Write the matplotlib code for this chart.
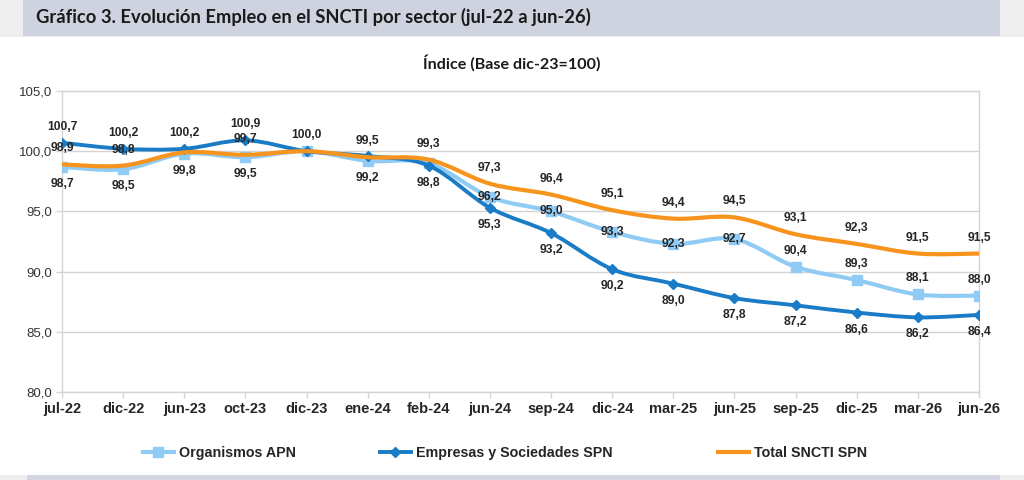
import matplotlib
matplotlib.use("Agg")
import matplotlib.pyplot as plt
from matplotlib.path import Path
from matplotlib.patches import PathPatch, Rectangle
from matplotlib.lines import Line2D

# ---------------- data ----------------
categories = ["jul-22", "dic-22", "jun-23", "oct-23", "dic-23", "ene-24", "feb-24",
              "jun-24", "sep-24", "dic-24", "mar-25", "jun-25", "sep-25", "dic-25",
              "mar-26", "jun-26"]
organismos_apn = [98.7, 98.5, 99.8, 99.5, 100.0, 99.2, 99.0, 96.2, 95.0, 93.3,
                  92.3, 92.7, 90.4, 89.3, 88.1, 88.0]
empresas_spn = [100.7, 100.2, 100.2, 100.9, 100.0, 99.6, 98.8, 95.3, 93.2, 90.2,
                89.0, 87.8, 87.2, 86.6, 86.2, 86.4]
total_sncti = [98.9, 98.8, 99.9, 99.7, 100.0, 99.5, 99.3, 97.3, 96.4, 95.1,
               94.4, 94.5, 93.1, 92.3, 91.5, 91.5]
series_names = ["Organismos APN", "Empresas y Sociedades SPN", "Total SNCTI SPN"]
y_ticks = [80.0, 85.0, 90.0, 95.0, 100.0, 105.0]

# label placement per point: 'a' above, 'b' below, 'c' centered, '' none
org_pos = ["b", "b", "b", "b", "", "b", "", "c", "c", "c", "c", "c", "a", "a", "a", "a"]
emp_pos = ["a", "a", "a", "a", "a", "", "b", "b", "b", "b", "b", "b", "b", "b", "b", "b"]
tot_pos = ["a", "a", "", "a", "", "a", "a", "a", "a", "a", "a", "a", "a", "a", "a", "a"]

# ---------------- style ----------------
W, H, DPI = 1024, 480, 100
C_ORG = "#8fcbf4"
C_EMP = "#1a7bc6"
C_TOT = "#f7941d"
TXT = "#262626"
GRID = "#d4d4d4"
BODY = ["Liberation Sans", "DejaVu Sans"]
HEAD = ["Lato", "DejaVu Sans"]

fig = plt.figure(figsize=(W / DPI, H / DPI), dpi=DPI, facecolor="white")


def px_rect(x0, y0, x1, y1, color):
    fig.add_artist(Rectangle((x0 / W, 1 - y1 / H), (x1 - x0) / W, (y1 - y0) / H,
                             transform=fig.transFigure, facecolor=color,
                             edgecolor="none", zorder=0))


# background bands
px_rect(0, 0, W, 37, "#efefef")
px_rect(23, 0, 1000, 36, "#cfd3df")
px_rect(0, 475, W, H, "#efefef")
px_rect(27, 475, 1000, H, "#d3d6e2")

fig.text(36 / W, 1 - 17 / H, "Gráfico 3. Evolución Empleo en el SNCTI por sector (jul-22 a jun-26)",
         ha="left", va="center", fontsize=13.2, fontweight="bold", family=HEAD, color="#1a1a1a")
fig.text(512 / W, 1 - 63 / H, "Índice (Base dic-23=100)", ha="center", va="center",
         fontsize=11.6, fontweight="bold", family=HEAD, color="#1a1a1a")

L, R, T, B = 62, 979, 91, 392
ax = fig.add_axes([L / W, 1 - B / H, (R - L) / W, (B - T) / H])
ax.set_facecolor("white")
x = list(range(len(categories)))
ax.set_xlim(0, len(categories) - 1)
ax.set_ylim(y_ticks[0], y_ticks[-1])
ax.set_yticks(y_ticks)
ax.set_yticklabels([f"{v:.1f}".replace(".", ",") for v in y_ticks],
                   fontsize=9.5, family=BODY, color="#333333")
ax.set_xticks(x)
ax.set_xticklabels(categories, fontsize=10.5, fontweight="bold", family=BODY, color=TXT)
ax.tick_params(axis="both", direction="out", length=4, width=1, color=GRID)
ax.tick_params(axis="x", pad=3)
ax.tick_params(axis="y", pad=3)
for s in ax.spines.values():
    s.set_color(GRID)
    s.set_linewidth(1.0)
ax.grid(axis="y", color=GRID, linewidth=1.0)
ax.set_axisbelow(True)


def smooth_path(xs, ys):
    n = len(xs)
    verts = [(xs[0], ys[0])]
    codes = [Path.MOVETO]
    for i in range(n - 1):
        x0, y0 = (xs[i - 1], ys[i - 1]) if i > 0 else (xs[i], ys[i])
        x1, y1 = xs[i], ys[i]
        x2, y2 = xs[i + 1], ys[i + 1]
        x3, y3 = (xs[i + 2], ys[i + 2]) if i + 2 < n else (xs[i + 1], ys[i + 1])
        c1 = (x1 + (x2 - x0) / 6.0, y1 + (y2 - y0) / 6.0)
        c2 = (x2 - (x3 - x1) / 6.0, y2 - (y3 - y1) / 6.0)
        verts += [c1, c2, (x2, y2)]
        codes += [Path.CURVE4] * 3
    return Path(verts, codes)


def draw_series(vals, color, lw, marker, ms, z):
    patch = PathPatch(smooth_path(x, vals), facecolor="none", edgecolor=color, lw=lw,
                      capstyle="round", joinstyle="round", zorder=z,
                      transform=ax.transData)
    ax.add_patch(patch)
    if marker:
        ax.plot(x, vals, ls="none", marker=marker, ms=ms, color=color,
                mec=color, zorder=z + 0.1)


draw_series(organismos_apn, C_ORG, 3.0, "s", 7, 3)
draw_series(empresas_spn, C_EMP, 2.8, "D", 5.5, 4)
draw_series(total_sncti, C_TOT, 3.0, None, 0, 5)

OFF = {"a": 16, "b": -17, "c": 0}
for vals, pos in ((organismos_apn, org_pos), (empresas_spn, emp_pos), (total_sncti, tot_pos)):
    for xi, v, p in zip(x, vals, pos):
        if not p:
            continue
        ax.annotate(f"{v:.1f}".replace(".", ","), (xi, v), xytext=(0, OFF[p] * 0.72),
                    textcoords="offset points", ha="center", va="center",
                    fontsize=8.7, fontweight="bold", family=BODY, color=TXT,
                    zorder=10, annotation_clip=False)

# legend (three separate entries placed like the reference)
handles = [
    Line2D([], [], color=C_ORG, lw=3.0, marker="s", ms=7),
    Line2D([], [], color=C_EMP, lw=2.8, marker="D", ms=5.5),
    Line2D([], [], color=C_TOT, lw=3.0),
]
starts = [143, 380, 718]
for h, name, sx in zip(handles, series_names, starts):
    lg = fig.legend([h], [name], loc="center left",
                    bbox_to_anchor=(sx / W, 1 - 453 / H), bbox_transform=fig.transFigure,
                    frameon=False, handlelength=2.15, handletextpad=0.35, borderpad=0,
                    borderaxespad=0, prop={"family": BODY, "weight": "bold", "size": 10.3})
    for t in lg.get_texts():
        t.set_color(TXT)

fig.savefig("out.png", dpi=DPI, facecolor=fig.get_facecolor())
